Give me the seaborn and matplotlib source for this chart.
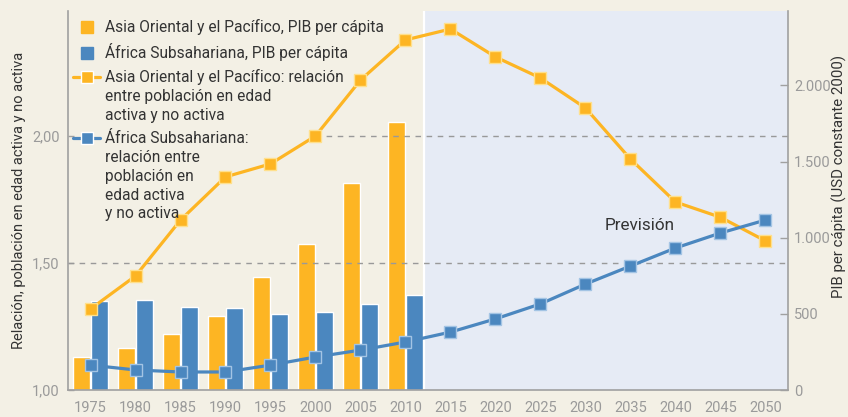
import numpy as np
import pandas as pd
import seaborn as sns
import matplotlib.pyplot as plt
from matplotlib.lines import Line2D
from matplotlib.legend_handler import HandlerLine2D

# ratio of working-age to non-working-age population (left axis)
years = [1975, 1980, 1985, 1990, 1995, 2000, 2005, 2010,
         2015, 2020, 2025, 2030, 2035, 2040, 2045, 2050]
ratio_asia = [1.319, 1.449, 1.669, 1.839, 1.890, 2.00, 2.22, 2.378,
              2.421, 2.311, 2.228, 2.11, 1.909, 1.74, 1.68, 1.587]
ratio_africa = [1.098, 1.079, 1.071, 1.071, 1.098, 1.130, 1.157, 1.189,
                1.228, 1.28, 1.339, 1.417, 1.488, 1.559, 1.618, 1.669]

# GDP per capita, constant 2000 USD (right axis)
pib_years = [1975, 1980, 1985, 1990, 1995, 2000, 2005, 2010]
pib_asia = [216, 275, 367, 485, 740, 956, 1362, 1762]
pib_africa = [583, 590, 544, 537, 498, 511, 563, 622]

left_ticks = [1.0, 1.5, 2.0]
left_labels = ["1,00", "1,50", "2,00"]
right_ticks = [0, 500, 1000, 1500, 2000]
right_labels = ["0", "500", "1.000", "1.500", "2.000"]

ORANGE = "#FDB523"
BLUE = "#4B87BF"
ORANGE_EDGE = "#FFE08C"
BLUE_EDGE = "#A3C4E4"
BG = "#F3F0E5"
SHADE = "#E6EBF5"
GREY = "#9A9A9A"
TEXT = "#333333"

sns.set_style("white")
plt.rcParams["font.family"] = ["Roboto", "DejaVu Sans"]

lbl_asia_pib = "Asia Oriental y el Pacífico, PIB per cápita"
lbl_afr_pib = "África Subsahariana, PIB per cápita"
lbl_asia_ratio = "Asia Oriental y el Pacífico: relación\nentre población en edad\nactiva y no activa"
lbl_afr_ratio = "África Subsahariana:\nrelación entre\npoblación en\nedad activa\ny no activa"


class TopLine(HandlerLine2D):
    # puts the legend handle next to the first line of a multi-line label
    def __init__(self, lift=0, **kw):
        super().__init__(**kw)
        self.lift = lift

    def create_artists(self, legend, orig_handle, xdescent, ydescent,
                       width, height, fontsize, trans):
        return super().create_artists(legend, orig_handle, xdescent,
                                      ydescent - 2 * self.lift, width, height,
                                      fontsize, trans)


bars = pd.DataFrame({
    "year": pib_years * 2,
    "pib": pib_asia + pib_africa,
    "region": ["asia"] * len(pib_years) + ["africa"] * len(pib_years),
})

fig = plt.figure(figsize=(8.48, 4.17), dpi=100, facecolor=BG)
ax = fig.add_axes([0.0802, 0.0647, 0.849, 0.909])
ax2 = ax.twinx()
ax2.set_facecolor(BG)
ax.set_zorder(ax2.get_zorder() + 1)
ax.patch.set_visible(False)

# forecast background
ax2.axvspan(2012.2, 2060, color=SHADE, zorder=0, lw=0)
ax2.axvline(2012.1, color="white", lw=1.6, zorder=0.5)

sns.barplot(data=bars, x="year", y="pib", hue="region", native_scale=True,
            palette={"asia": ORANGE, "africa": BLUE}, width=0.8, gap=0.06,
            saturation=1, legend=False, ax=ax2, zorder=1)

sns.lineplot(x=years, y=ratio_asia, color=ORANGE, lw=2.3, marker="s",
             markersize=8, markeredgecolor=ORANGE_EDGE, markeredgewidth=1,
             ax=ax, zorder=4)
sns.lineplot(x=years, y=ratio_africa, color=BLUE, lw=2.3, marker="s",
             markersize=8, markeredgecolor=BLUE_EDGE, markeredgewidth=1,
             ax=ax, zorder=4)

ax.set_xlim(1972.5, 2052.5)
ax.set_ylim(1.0, 2.492)
ax2.set_ylim(0, 2489)

ax.set_yticks(left_ticks)
ax.set_yticklabels(left_labels)
ax2.set_yticks(right_ticks)
ax2.set_yticklabels(right_labels)
ax.set_xticks(years)
ax.set_xticklabels([str(y) for y in years])

# dashed reference lines (the 2,00 one starts right of the legend)
ax.grid(False)
ax2.grid(False)
dash = dict(color="#999999", lw=1.0, linestyle=(0, (4, 4)), zorder=2)
ax.axhline(left_ticks[1], **dash)
ax.hlines(left_ticks[2], years[5], 2052.5, **dash)

for s in ["top", "right"]:
    ax.spines[s].set_visible(False)
for s in ["top", "left", "bottom"]:
    ax2.spines[s].set_visible(False)
for s in ["left", "bottom"]:
    ax.spines[s].set_color("#A0A0A0")
    ax.spines[s].set_linewidth(1.2)
ax2.spines["right"].set_color("#A0A0A0")
ax2.spines["right"].set_linewidth(1.2)

ax.tick_params(axis="x", direction="out", length=5, width=1, color="#A0A0A0",
               labelsize=10.5, labelcolor=GREY, pad=3)
ax.tick_params(axis="y", direction="in", length=4, width=1, color="#A0A0A0",
               labelsize=10.5, labelcolor=GREY, pad=6)
ax2.tick_params(axis="y", direction="in", length=6, width=1, color="#A0A0A0",
                labelsize=10.5, labelcolor=GREY, pad=4.5)

ax.set_xlabel("")
ax2.set_ylabel("")
ax.set_ylabel("Relación, población en edad activa y no activa", fontsize=10.5,
              color=TEXT)
ax.yaxis.set_label_coords(-0.058, 0.5)
ax2.set_ylabel("PIB per cápita (USD constante 2000)", fontsize=10.8, color=TEXT)
ax2.yaxis.set_label_coords(1.061, 0.563)

ax.text(2036, 1.646, "Previsión", fontsize=12.3, color=TEXT, ha="center",
        va="center")

h_asia_pib = Line2D([], [], marker="s", linestyle="none", color=ORANGE, markersize=9)
h_afr_pib = Line2D([], [], marker="s", linestyle="none", color=BLUE, markersize=9)
h_asia_ratio = Line2D([], [], marker="s", color=ORANGE, lw=2.3, markersize=8,
                      markeredgecolor="white", markeredgewidth=1)
h_afr_ratio = Line2D([], [], marker="s", color=BLUE, lw=2.3, markersize=8,
                     markeredgecolor="white", markeredgewidth=1)
line_pt = 13.9
leg = ax.legend([h_asia_pib, h_afr_pib, h_asia_ratio, h_afr_ratio],
                [lbl_asia_pib, lbl_afr_pib, lbl_asia_ratio, lbl_afr_ratio],
                handler_map={h_asia_ratio: TopLine(lift=line_pt),
                             h_afr_ratio: TopLine(lift=2 * line_pt)},
                loc="upper left", bbox_to_anchor=(0.0, 0.993), frameon=False,
                fontsize=11.2, handlelength=1.7, handletextpad=0.3,
                labelspacing=0.52, borderaxespad=0.15, borderpad=0.2)
for t in leg.get_texts():
    t.set_color(TEXT)
    t.set_linespacing(1.32)

fig.savefig("out.png", dpi=100, facecolor=BG)
